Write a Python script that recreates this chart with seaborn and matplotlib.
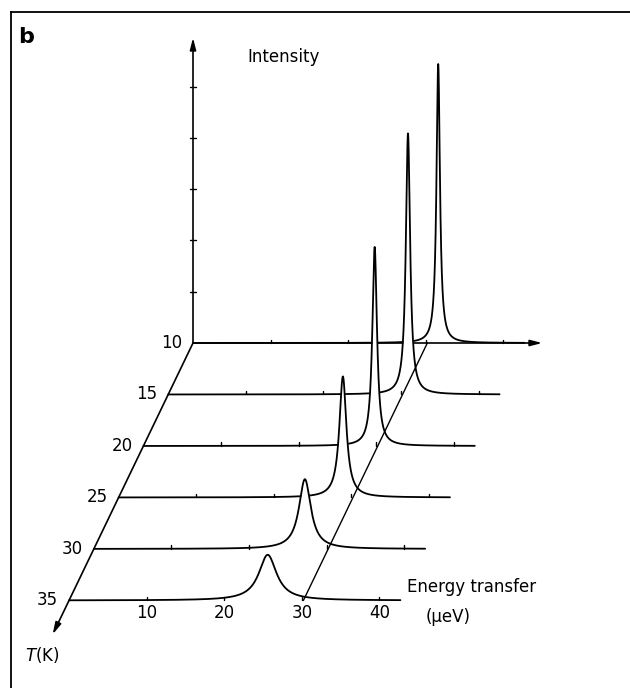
import matplotlib
matplotlib.use("Agg")
import matplotlib.pyplot as plt
import pandas as pd
import seaborn as sb
import numpy as np

sb.set_style("white")
plt.rcParams['font.family'] = ['DejaVu Sans']
plt.rcParams['mathtext.fontset'] = 'dejavusans'
plt.rcParams['text.color'] = 'black'

# peak data
temps   = [10, 15, 20, 25, 30, 35]            # T (K)
centres = [31.6, 30.9, 29.8, 28.9, 27.2, 25.6]  # peak position (ueV)
heights = [5.44, 5.09, 3.88, 2.36, 1.36, 0.89]  # peak intensity (tick units)
hwhm    = [0.27, 0.33, 0.36, 0.55, 0.93, 1.4]   # half width (ueV)

energy_ticks = [10, 20, 30, 40]
intensity_ticks = [1, 2, 3, 4, 5]
row_end = 42.7      # end of each baseline (ueV)
axis_end = 45.0     # end of energy axis arrow at T=10
int_top = 5.95      # top of intensity arrow
t_tip = 38.3        # tip of T arrow
ref_energy = 30.2   # the slanted reference line

# oblique projection: E along x, T goes down-left, I up
T0 = 10
SHEAR = -0.639
DROP = 1.327
ISCALE = 6.61
PX = 7.76   # pixels per ueV


def proj(E, T, I=0.0):
    E = np.asarray(E, dtype=float)
    I = np.asarray(I, dtype=float)
    return E + SHEAR * (T - T0), I * ISCALE - DROP * (T - T0)


def lorentz(E, e0, h, g):
    return h / (1.0 + ((E - e0) / g) ** 2)


frames = []
egrid = np.linspace(0, row_end, 6000)
for t, c, h, g in zip(temps, centres, heights, hwhm):
    inten = lorentz(egrid, c, h, g)
    u, v = proj(egrid, t, inten)
    frames.append(pd.DataFrame({"T": t, "E": egrid, "I": inten, "u": u, "v": v}))
spectra = pd.concat(frames, ignore_index=True)

fig = plt.figure(figsize=(6.3, 6.88), dpi=100)

# frame (left and top rules only)
frame = fig.add_axes([11 / 630, 0, 1 - 11 / 630, 1 - 12 / 688])
frame.set_facecolor("none")
for side in ["right", "bottom"]:
    frame.spines[side].set_visible(False)
for side in ["left", "top"]:
    frame.spines[side].set_linewidth(1.3)
    frame.spines[side].set_color("black")
frame.set_xticks([])
frame.set_yticks([])

ax = fig.add_axes([0, 0, 1, 1])
ax.set_facecolor("none")
ax.axis("off")

arrow = dict(arrowstyle="-|>,head_length=0.7,head_width=0.18", lw=1.2,
             color="black", shrinkA=0, shrinkB=0)

# intensity axis
ax.annotate("", xy=proj(0, T0, int_top), xytext=proj(0, T0, 0),
            arrowprops=arrow, zorder=1)
for it in intensity_ticks:
    u, v = proj(0, T0, it)
    ax.plot([u - 0.45, u + 0.45], [v, v], color="black", lw=1.0, zorder=1)

# temperature axis
ax.annotate("", xy=proj(0, t_tip), xytext=proj(0, T0),
            arrowprops=arrow, zorder=1)

# reference line at constant energy, drawn over everything
u1, v1 = proj(ref_energy, temps[-1])
u2, v2 = proj(ref_energy, temps[0])
ax.plot([u1, u2], [v1, v2], color="black", lw=1.0, zorder=20)

# spectra, back to front with hidden-line fill
for k, t in enumerate(temps):
    z = 2 + k
    d = spectra[spectra["T"] == t]
    base_v = proj(0, t)[1]
    ax.fill_between(d["u"], base_v, d["v"], color="white", lw=0, zorder=z)
    if t == T0:
        ax.annotate("", xy=proj(axis_end, t), xytext=proj(0, t),
                    arrowprops=arrow, zorder=z + 0.05)
    sb.lineplot(data=d, x="u", y="v", estimator=None, sort=False,
                color="black", lw=1.3, zorder=z + 0.1, ax=ax)
    for et in energy_ticks:
        u, v = proj(et, t)
        ax.plot([u, u], [v, v + 0.45], color="black", lw=1.0, zorder=z + 0.1)
    u, v = proj(0, t)
    ax.text(u - 1.4, v, str(t), ha="right", va="center", fontsize=12,
            zorder=10)

# energy tick labels under the front row
for et in energy_ticks:
    u, v = proj(et, temps[-1])
    ax.text(u, v - 1.6, str(et), ha="center", va="center", fontsize=12)

u, v = proj(43.6, temps[-1])
ax.text(u, v + 1.75, "Energy transfer", ha="left", va="center", fontsize=12)
u, v = proj(45.9, temps[-1])
ax.text(u, v - 2.1, "(\u03bceV)", ha="left", va="center", fontsize=12)

u, v = proj(7.0, T0, 5.57)
ax.text(u, v, "Intensity", ha="left", va="center", fontsize=12)

u, v = proj(0, 40.3)
ax.text(u, v, "$T$(K)", ha="center", va="center", fontsize=12)

fig.text(18 / 630, 1 - 27 / 688, "b", ha="left", va="top", fontsize=16,
         fontweight="bold")

ax.set_xlim(-193 / PX, (630 - 193) / PX)
ax.set_ylim(-(688 - 343) / PX, 343 / PX)

fig.savefig("out.png", dpi=100)
